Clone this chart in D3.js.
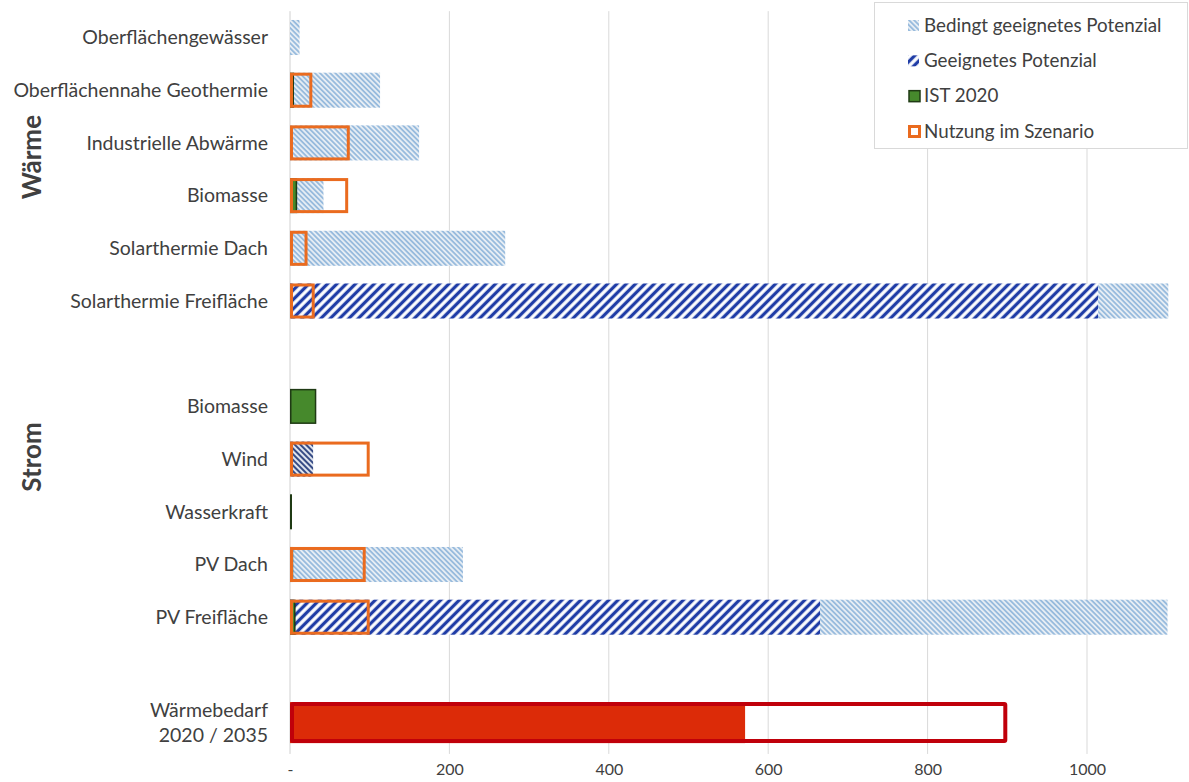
<!DOCTYPE html>
<html><head><meta charset="utf-8">
<script src="https://cdn.jsdelivr.net/npm/d3@7"></script>
<style>body{margin:0;background:#fff}svg{display:block}text{font-family:Lato,"Open Sans",sans-serif;fill:#404040}</style>
</head><body><svg id="c" width="1189" height="782"></svg>
<script>
// ---- data ----
const categories = ["Oberflächengewässer","Oberflächennahe Geothermie","Industrielle Abwärme","Biomasse","Solarthermie Dach","Solarthermie Freifläche","","Biomasse","Wind","Wasserkraft","PV Dach","PV Freifläche","","Wärmebedarf\n2020 / 2035"];
const geeignet  = [0,0,0,0,0,1014,null,0,29,0,0,665,null,null];
const bedingt   = [12,113,162,42,270,88,null,0,0,0,217,436,null,null];
const ist2020   = [0,5,0,9,0,0,null,33,0,1.5,4,7,null,null];
const nutzung   = [0,28,75,73,22,31,null,0,100,0,95,100,null,null];
const bedarf2020 = [null,null,null,null,null,null,null,null,null,null,null,null,null,571];
const bedarf2035 = [null,null,null,null,null,null,null,null,null,null,null,null,null,900];
const groups = [{label:"Wärme",row:2.27},{label:"Strom",row:7.96}];
const tickValues = [0,200,400,600,800,1000];
const legendItems = ["Bedingt geeignetes Potenzial","Geeignetes Potenzial","IST 2020","Nutzung im  Szenario"];

// ---- setup ----
const svg = d3.select("#c");
const x = d3.scaleLinear().domain([0,1100]).range([290,1166.7]);
const y = d3.scaleBand().domain(d3.range(categories.length)).range([11.15,748.95]).paddingInner(0.335).paddingOuter(0.1675);
const defs = svg.append("defs");
function hatch(id, w, angle, color, sw, bg){
  const p = defs.append("pattern").attr("id",id).attr("patternUnits","userSpaceOnUse")
    .attr("width",w).attr("height",w).attr("patternTransform",`rotate(${angle})`);
  p.append("rect").attr("width",w).attr("height",w).attr("fill",bg);
  p.append("line").attr("x1",w/2).attr("x2",w/2).attr("y1",0).attr("y2",w).attr("stroke",color).attr("stroke-width",sw);
}
hatch("light",3.6,-45,"#98bbdd",1.8,"#e6edf4");
hatch("dark",6.6,45,"#1f3ca6",3.3,"#ffffff");
hatch("darkfine",4,-45,"#2e4480",1.9,"#dfe4ee");

// gridlines
const [y0,y1] = y.range();
svg.append("g").selectAll("line").data(tickValues).join("line")
  .attr("x1",d=>x(d)).attr("x2",d=>x(d)).attr("y1",y0).attr("y2",y1+5)
  .attr("stroke",d=>d===0?"#d0d0d0":"#d9d9d9").attr("stroke-width",1);

// x axis labels
const xa = svg.append("g").attr("transform",`translate(0,${y1})`)
  .call(d3.axisBottom(x).tickValues(tickValues).tickSize(0).tickPadding(15).tickFormat(d=>d===0?"-":d));
xa.select(".domain").remove();
xa.selectAll("text").style("font-family","Lato, sans-serif").style("font-size","16px").attr("fill","#404040");

const idx = d3.range(categories.length);
const bh = y.bandwidth();
// potential bars: geeignet + bedingt stacked
svg.append("g").selectAll("rect").data(idx.filter(i=>geeignet[i]>0)).join("rect")
  .attr("x",x(0)).attr("y",i=>y(i)).attr("height",bh)
  .attr("width",i=>x(geeignet[i])-x(0))
  .attr("fill",i=>categories[i]==="Wind"?"url(#darkfine)":"url(#dark)");
svg.append("g").selectAll("rect").data(idx.filter(i=>bedingt[i]>0)).join("rect")
  .attr("x",i=>x(geeignet[i]||0)).attr("y",i=>y(i)).attr("height",bh)
  .attr("width",i=>x((geeignet[i]||0)+bedingt[i])-x(geeignet[i]||0))
  .attr("fill","url(#light)");
// IST 2020
svg.append("g").selectAll("rect").data(idx.filter(i=>ist2020[i]>0)).join("rect")
  .attr("x",x(0)+0.75).attr("y",i=>y(i)+0.75).attr("height",bh-1.5)
  .attr("width",i=>Math.max(0.5,x(ist2020[i])-x(0)-1.5))
  .attr("fill","#46892c").attr("stroke","#1f3a14").attr("stroke-width",1.5);
// Nutzung im Szenario
svg.append("g").selectAll("rect").data(idx.filter(i=>nutzung[i]>0)).join("rect")
  .attr("x",x(0)+1.5).attr("y",i=>y(i)+1.5).attr("height",bh-3)
  .attr("width",i=>x(nutzung[i])-x(0)-3)
  .attr("fill","none").attr("stroke","#ea6b1f").attr("stroke-width",3);
// Wärmebedarf
const wi = idx.filter(i=>bedarf2035[i]!=null);
svg.append("g").selectAll("rect").data(wi).join("rect")
  .attr("x",x(0)).attr("y",i=>y(i)-3).attr("height",bh+6)
  .attr("width",i=>x(bedarf2020[i])-x(0)).attr("fill","#dc2b08");
svg.append("g").selectAll("rect").data(wi).join("rect")
  .attr("x",x(0)+2).attr("y",i=>y(i)-1).attr("height",bh+2)
  .attr("width",i=>x(bedarf2035[i])-x(0)-4)
  .attr("fill","none").attr("stroke","#c0000a").attr("stroke-width",4).attr("rx",1);

// category labels
const lab = svg.append("g").selectAll("text").data(idx.filter(i=>categories[i])).join("text")
  .attr("x",268).attr("text-anchor","end").style("font-size","19.5px");
lab.each(function(i){
  const lines = categories[i].split("\n");
  const cy = y(i)+bh/2;
  const t = d3.select(this);
  lines.forEach((l,k)=>{
    t.append("tspan").attr("x",268).attr("y",cy + (k-(lines.length-1)/2)*25).attr("dy","0.35em").text(l);
  });
});
// group labels
const step = y.step();
svg.append("g").selectAll("text").data(groups).join("text")
  .attr("transform",g=>`translate(41,${y(0)+bh/2+g.row*step}) rotate(-90)`)
  .attr("text-anchor","middle").style("font-size","26px").style("font-weight","bold").attr("fill","#1a1a1a")
  .text(g=>g.label);

// legend
const lg = svg.append("g");
lg.append("rect").attr("x",874.5).attr("y",2.5).attr("width",313).attr("height",146).attr("fill","#fff").attr("stroke","#d9d9d9");
const ly = d3.scalePoint().domain(legendItems).range([25,131]);
const li = lg.selectAll("g").data(legendItems).join("g").attr("transform",d=>`translate(0,${ly(d)})`);
li.append("text").attr("x",924).attr("dy","0.35em").style("font-size","18.8px").text(d=>d);
li.each(function(d,k){
  const g = d3.select(this);
  if(k===0) g.append("rect").attr("x",908).attr("y",-5).attr("width",11).attr("height",11).attr("fill","url(#light)");
  if(k===1){ g.append("rect").attr("x",908).attr("y",-5).attr("width",11).attr("height",11).attr("fill","url(#dark)"); }
  if(k===2) g.append("rect").attr("x",909).attr("y",-5).attr("width",11).attr("height",11).attr("fill","#46892c").attr("stroke","#1f3a14").attr("stroke-width",1.5);
  if(k===3) g.append("rect").attr("x",909.5).attr("y",-4.5).attr("width",10).attr("height",10).attr("fill","none").attr("stroke","#ea6b1f").attr("stroke-width",3);
});
</script></body></html>
